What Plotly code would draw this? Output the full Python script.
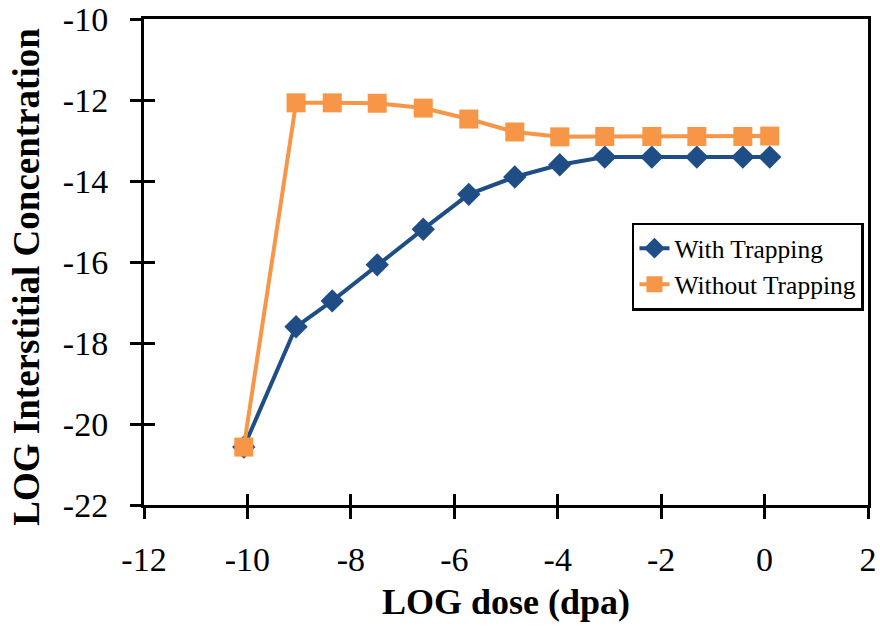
import plotly.graph_objects as go

# log10 of dose (dpa)
log_dose = [-10.07, -9.06, -8.36, -7.49, -6.60, -5.72, -4.83, -3.96, -3.09, -2.18, -1.31, -0.42, 0.10]
# log10 interstitial concentration
with_trapping = [-20.57, -17.60, -16.96, -16.07, -15.19, -14.33, -13.90, -13.60, -13.41, -13.41, -13.41, -13.41, -13.41]
without_trapping = [-20.57, -12.07, -12.07, -12.08, -12.20, -12.47, -12.79, -12.91, -12.90, -12.90, -12.90, -12.90, -12.89]

x_ticks = [-12, -10, -8, -6, -4, -2, 0, 2]
x_tick_labels = ["-12", "-10", "-8", "-6", "-4", "-2", "0", "2"]
y_ticks = [-22, -20, -18, -16, -14, -12, -10]
y_tick_labels = ["-22", "-20", "-18", "-16", "-14", "-12", "-10"]

BLUE = "#1f4e87"
ORANGE = "#f79646"
SERIF = "Liberation Serif, Times New Roman, serif"

fig = go.Figure()
fig.add_trace(go.Scatter(
    x=log_dose, y=with_trapping, name="With Trapping", mode="lines+markers",
    line=dict(color=BLUE, width=4),
    marker=dict(symbol="diamond", size=18, color=BLUE),
))
fig.add_trace(go.Scatter(
    x=log_dose, y=without_trapping, name="Without Trapping", mode="lines+markers",
    line=dict(color=ORANGE, width=4),
    marker=dict(symbol="square", size=19, color=ORANGE),
))
# helper trace so the overlay axes (inner half of the tick marks) are drawn
fig.add_trace(go.Scatter(x=[None], y=[None], xaxis="x2", yaxis="y2",
                         showlegend=False, hoverinfo="skip"))

axis_common = dict(
    showgrid=False, zeroline=False, linecolor="black", linewidth=3,
    ticks="outside", ticklen=11, tickwidth=3, tickcolor="black", automargin=False,
    tickfont=dict(family=SERIF, size=34, color="black"),
)
inner_ticks = dict(
    showline=False, showgrid=False, zeroline=False, showticklabels=False, automargin=False,
    ticks="inside", ticklen=11, tickwidth=3, tickcolor="black",
)

fig.update_layout(
    width=880, height=635,
    margin=dict(l=144, r=12, t=19, b=130),
    paper_bgcolor="white", plot_bgcolor="white",
    xaxis=dict(range=[-12, 2], tickvals=x_ticks, ticktext=x_tick_labels, showline=True,
               mirror=True, ticklabelstandoff=11, **axis_common),
    yaxis=dict(range=[-22, -10], tickvals=y_ticks, ticktext=y_tick_labels, showline=True,
               mirror=True, ticklabelstandoff=15, **axis_common),
    xaxis2=dict(range=[-12, 2], tickvals=x_ticks, overlaying="x", anchor="y2", side="bottom",
                **inner_ticks),
    yaxis2=dict(range=[-22, -10], tickvals=y_ticks, overlaying="y", anchor="x2", side="left",
                **inner_ticks),
    legend=dict(
        x=0.674, y=0.581, xanchor="left", yanchor="top",
        bgcolor="white", bordercolor="black", borderwidth=2.5,
        font=dict(family=SERIF, size=25.5, color="black"),
        itemwidth=30, tracegroupgap=0,
    ),
    showlegend=True,
    annotations=[
        dict(text="<b>LOG dose (dpa)</b>", xref="paper", yref="paper",
             x=0.5, y=-0.2, xanchor="center", yanchor="middle", showarrow=False,
             font=dict(family=SERIF, size=36, color="black")),
        dict(text="<b>LOG Interstitial Concentration</b>", xref="paper", yref="paper",
             x=-0.1615, y=0.47, xanchor="center", yanchor="middle", showarrow=False,
             textangle=-90, font=dict(family=SERIF, size=37, color="black")),
    ],
)

fig.write_html("out.html")
